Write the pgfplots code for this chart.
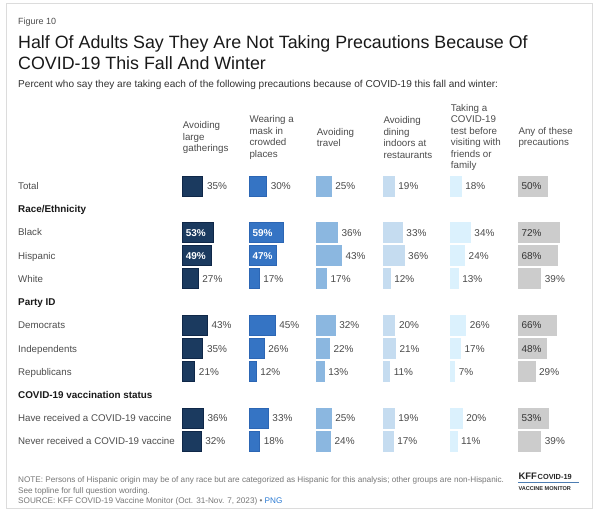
\documentclass[border=0pt]{standalone}
\usepackage{pgfplots}
\pgfplotsset{compat=1.18}
\usepackage{pgfplotstable}
\usepackage{fontspec}
\setmainfont{Liberation Sans}

\definecolor{cA}{HTML}{1B3A5F}
\definecolor{cAd}{HTML}{0F2748}
\definecolor{cB}{HTML}{3574C4}
\definecolor{cBd}{HTML}{2C66B4}
\definecolor{cC}{HTML}{8BB7E0}
\definecolor{cD}{HTML}{C5DCF0}
\definecolor{cE}{HTML}{DBF1FD}
\definecolor{cF}{HTML}{CCCCCC}
\definecolor{labgray}{HTML}{4A4A4A}
\definecolor{rowgray}{HTML}{4D4D4D}
\definecolor{notegray}{HTML}{777777}
\definecolor{linkblue}{HTML}{2B7BD4}
\definecolor{cardline}{HTML}{DCDCDC}

% rows: 0 Total, 1 header, 2-4 race, 5 header, 6-8 party, 9 header, 10-11 vaccination
\pgfplotstableread{
k v
0 35
2 53
3 49
4 27
6 43
7 35
8 21
10 36
11 32
}\gatherings
\pgfplotstableread{
k v
0 30
2 59
3 47
4 17
6 45
7 26
8 12
10 33
11 18
}\mask
\pgfplotstableread{
k v
0 25
2 36
3 43
4 17
6 32
7 22
8 13
10 25
11 24
}\travel
\pgfplotstableread{
k v
0 19
2 33
3 36
4 12
6 20
7 21
8 11
10 19
11 17
}\dining
\pgfplotstableread{
k v
0 18
2 34
3 24
4 13
6 26
7 17
8 7
10 20
11 11
}\testing
\pgfplotstableread{
k v
0 50
2 72
3 68
4 39
6 66
7 48
8 29
10 53
11 39
}\anyof

\pgfplotsset{
  colaxis/.style={
    scale only axis, width=57.5bp, height=278.4bp,
    xmin=0, xmax=100, ymin=-0.5, ymax=11.5, y dir=reverse,
    hide axis, clip=false, anchor=north west,
  },
  vallabel/.style={
    draw=none, mark=none, point meta=explicit symbolic,
    nodes near coords={\pgfplotspointmeta\%},
    every node near coord/.append style={anchor=west, inner sep=0pt,
      text height=7.2bp, text depth=0bp, font=\fontsize{10}{12}\selectfont},
  },
}

% #1 left x, #2 table, #3 fill, #4 border, #5 style of labels inside the bar
\newcommand\colaxis[5]{%
\begin{axis}[colaxis, at={(#1bp,-174.4bp)}]
\addplot[xbar, bar width=20bp, bar shift=0pt, fill=#3, draw=#4, line width=0.7bp]
  table[x=v, y=k] {#2};
\addplot[vallabel, restrict expr to domain={\thisrow{v}}{0:45.5},
  every node near coord/.append style={xshift=4bp, text=labgray}]
  table[x=v, y=k, meta=v] {#2};
\addplot[vallabel, restrict expr to domain={\thisrow{v}}{45.5:200},
  every node near coord/.append style={xshift=3bp, #5}]
  table[x expr=0, y=k, meta=v] {#2};
\end{axis}}

\begin{document}
\begin{tikzpicture}[x=1bp, y=1bp,
  rowlab/.style={anchor=west, inner sep=0pt, text height=7.2bp, text depth=0bp,
    font=\fontsize{9.75}{12}\selectfont, text=rowgray},
  sechead/.style={rowlab, font=\fontsize{9.9}{12}\selectfont\bfseries, text=black!90},
  colhead/.style={anchor=west, align=left, inner sep=0pt,
    font=\fontsize{9.8}{11.5}\selectfont, text=rowgray}]
\path[use as bounding box, fill=white] (0,0) rectangle (600,-516);
\draw[cardline, line width=1bp, fill=white] (6,-4) rectangle (592,-508);

% titles
\node[anchor=base west, inner sep=0pt, font=\fontsize{9}{11}\selectfont, text=rowgray]
  at (18,-24.5) {Figure 10};
\node[anchor=base west, inner sep=0pt, font=\fontsize{17.9}{21}\selectfont, text=black!90]
  at (18,-48.3) {Half Of Adults Say They Are Not Taking Precautions Because Of};
\node[anchor=base west, inner sep=0pt, font=\fontsize{17.9}{21}\selectfont, text=black!90]
  at (18,-69.5) {COVID-19 This Fall And Winter};
\node[anchor=base west, inner sep=0pt, font=\fontsize{10.1}{12}\selectfont, text=black!80]
  at (18,-87.5) {Percent who say they are taking each of the following precautions because of COVID-19 this fall and winter:};

% column headers
\node[colhead] at (182.7,-137.5) {Avoiding\\large\\gatherings};
\node[colhead] at (249.3,-137.5) {Wearing a\\mask in\\crowded\\places};
\node[colhead] at (316.7,-137.5) {Avoiding\\travel};
\node[colhead] at (383.3,-137.5) {Avoiding\\dining\\indoors at\\restaurants};
\node[colhead] at (450.7,-137.5) {Taking a\\COVID-19\\test before\\visiting with\\friends or\\family};
\node[colhead] at (518.3,-137.5) {Any of these\\precautions};

% row labels
\node[rowlab] at (18,-186) {Total};
\node[sechead] at (18,-209.2) {Race/Ethnicity};
\node[rowlab] at (18,-232.4) {Black};
\node[rowlab] at (18,-255.6) {Hispanic};
\node[rowlab] at (18,-278.8) {White};
\node[sechead] at (18,-302) {Party ID};
\node[rowlab] at (18,-325.2) {Democrats};
\node[rowlab] at (18,-348.4) {Independents};
\node[rowlab] at (18,-371.6) {Republicans};
\node[sechead] at (18,-394.8) {COVID-19 vaccination status};
\node[rowlab] at (18,-418) {Have received a COVID-19 vaccine};
\node[rowlab] at (18,-441.2) {Never received a COVID-19 vaccine};

\colaxis{182.7}{\gatherings}{cA}{cAd}{text=white, font=\fontsize{10}{12}\selectfont\bfseries}
\colaxis{249.3}{\mask}{cB}{cBd}{text=white, font=\fontsize{10}{12}\selectfont\bfseries}
\colaxis{316.7}{\travel}{cC}{cC}{text=labgray}
\colaxis{383.3}{\dining}{cD}{cD}{text=labgray}
\colaxis{450.7}{\testing}{cE}{cE}{text=labgray}
\colaxis{518.3}{\anyof}{cF}{cF}{text=black!80}

% footer
\node[anchor=base west, inner sep=0pt, font=\fontsize{8.2}{10}\selectfont, text=notegray]
  at (18,-482.5) {NOTE: Persons of Hispanic origin may be of any race but are categorized as Hispanic for this analysis; other groups are non-Hispanic.};
\node[anchor=base west, inner sep=0pt, font=\fontsize{8.2}{10}\selectfont, text=notegray]
  at (18,-493) {See topline for full question wording.};
\node[anchor=base west, inner sep=0pt, font=\fontsize{8.2}{10}\selectfont, text=notegray]
  at (18,-503.8) {SOURCE: KFF COVID-19 Vaccine Monitor (Oct. 31-Nov. 7, 2023) \textbullet\ \textcolor{linkblue}{PNG}};

% logo
\node[anchor=base west, inner sep=0pt, font=\fontsize{9.5}{12}\selectfont\bfseries, text=black!85]
  at (518.3,-479.5) {KFF};
\node[anchor=base west, inner sep=0pt, font=\fontsize{7.4}{8}\selectfont\bfseries, text=black!85]
  at (537.5,-479.5) {COVID-19};
\draw[linkblue!60!gray, line width=0.5bp] (518.3,-482) -- (579,-482);
\node[anchor=base west, inner sep=0pt, font=\fontsize{5.6}{7}\selectfont\bfseries, text=black!85]
  at (518.3,-490.5) {VACCINE MONITOR};
\end{tikzpicture}
\end{document}
